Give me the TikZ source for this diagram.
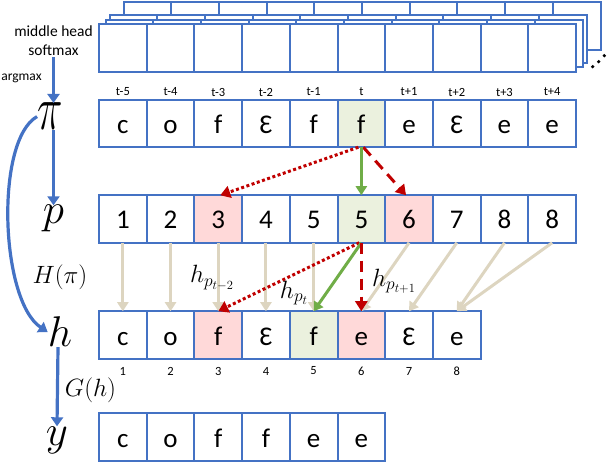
\RequirePackage{fix-cm}
\documentclass[tikz,border=0pt]{standalone}
\usepackage{fontspec}
\setmainfont{Carlito}
\usetikzlibrary{arrows.meta}

\tikzset{
  cell/.style={draw=cellblue, line width=2pt, fill=white, minimum width=47.7pt,
    minimum height=47.5pt, inner sep=0pt, outer sep=0pt,
    font=\fontsize{27}{27}\selectfont, text height=20pt, text depth=0pt},
  smalllab/.style={font=\fontsize{12.5}{12.5}\selectfont, inner sep=0pt},
  bigsym/.style={font=\fontsize{43}{43}\selectfont, inner sep=0pt, anchor=base},
  midsym/.style={font=\fontsize{25}{25}\selectfont, inner sep=0pt},
  bluearrow/.style={draw=cellblue, line width=3.2pt, -{Triangle[width=12pt,length=9pt]}},
  greenarrow/.style={draw=arrowgreen, line width=3pt, -{Triangle[width=11pt,length=9pt]}},
  reddot/.style={draw=arrowred, line width=3pt, dash pattern=on 3pt off 2.5pt,
    -{Triangle[width=12pt,length=10pt]}},
  reddash/.style={draw=arrowred, line width=3pt, dash pattern=on 11pt off 7pt,
    -{Triangle[width=12pt,length=10pt]}},
  beigearrow/.style={draw=linkbeige, line width=3pt, -{Triangle[width=11pt,length=9pt]}},
}

\begin{document}
\begin{tikzpicture}[x=1pt, y=-1pt]
  % Define colors
  \definecolor{cellblue}{RGB}{68,114,196}
  \definecolor{greenfill}{RGB}{235,241,222}
  \definecolor{pinkfill}{RGB}{255,217,217}
  \definecolor{arrowgreen}{RGB}{112,173,71}
  \definecolor{arrowred}{RGB}{192,0,0}
  \definecolor{linkbeige}{RGB}{221,213,192}

  \useasboundingbox (0,0) rectangle (608,462);

  % Stack of head outputs (back to front)
  \foreach \dx/\dy [count=\l] in {24.5/-22, 10.5/-9, 6.5/-4.5, 0/0}
    \foreach \i in {0,...,9}
      \node[cell] (mh\l-\i) at (122.85+47.7*\i+\dx, 48.25+\dy) {};
  \foreach \px/\py in {592.7/66.7, 598.7/61.7, 604.3/55.7}
    \fill (\px,\py) circle (1.8pt);

  \node[align=center, font=\fontsize{15.5}{19}\selectfont, inner sep=1pt] (mhlabel) at (53.5,41) {middle head\\softmax};
  \node[font=\fontsize{13.5}{13.5}\selectfont, inner sep=0pt] (argmax) at (21.5,78) {argmax};

  % Rows of cells
  \foreach \c/\f [count=\i from 0] in {c/white, o/white, f/white, Ɛ/white, f/white, f/greenfill, e/white, Ɛ/white, e/white, e/white}
    \node[cell, fill=\f] (pi\i) at (122.85+47.7*\i, 123.5) {\c};
  \foreach \t [count=\i from 0] in {t-5,t-4,t-3,t-2,t-1,t,t+1,t+2,t+3,t+4}
    \node[smalllab] (tl\i) at (122.85+47.7*\i, 92) {\t};

  \foreach \c/\f [count=\i from 0] in {1/white, 2/white, 3/pinkfill, 4/white, 5/white, 5/greenfill, 6/pinkfill, 7/white, 8/white, 8/white}
    \node[cell, fill=\f] (p\i) at (122.85+47.7*\i, 219) {\c};

  \foreach \c/\f [count=\i from 0] in {c/white, o/white, f/pinkfill, Ɛ/white, f/greenfill, e/pinkfill, Ɛ/white, e/white}
    \node[cell, fill=\f] (h\i) at (122.85+47.7*\i, 335) {\c};
  \foreach \i in {0,...,7}
    \pgfmathtruncatemacro\n{\i+1}
    \node[smalllab] (hl\i) at (122.85+47.7*\i, 371) {\n};

  \foreach \c [count=\i from 0] in {c,o,f,f,e,e}
    \node[cell] (y\i) at (122.85+47.7*\i, 437) {\c};

  % Symbols on the left
  \node[bigsym] (pisym) at (50,130) {\scalebox{1}[1.45]{$\pi$}};
  \node[bigsym] (psym) at (53.5,224) {$p$};
  \node[bigsym] (hsym) at (60,347) {$h$};
  \node[bigsym] (ysym) at (57,445) {$y$};
  \node[midsym] (hpi) at (60,277) {$H(\pi)$};
  \node[midsym] (gh) at (90.5,390) {$G(h)$};

  \draw[bluearrow] (mhlabel.south) -- (mhlabel.south |- pisym.north);
  \draw[bluearrow] (pisym.south -| psym) -- (psym.north);
  \draw[bluearrow] (pisym.west) .. controls (-5,140) and (0,300) .. (hsym.west);
  \draw[bluearrow] ([xshift=-2pt]hsym.south) -- (ysym.north);

  % Links from p to h
  \foreach \a/\b in {0/0, 1/1, 2/2, 3/3, 4/4, 6/5, 7/6, 8/7, 9/7}
    \draw[beigearrow] (p\a.south) -- (h\b.north);

  % Links from pi to p
  \draw[reddot] ([xshift=-3pt]pi5.south) -- ([xshift=2pt]p2.north);
  \draw[reddash] ([xshift=2pt]pi5.south) -- ([xshift=-3pt]p6.north);
  \draw[greenarrow] (pi5.south) -- (p5.north);

  % Selected links from p to h
  \draw[reddot] ([xshift=-2pt]p5.south) -- (h2.north);
  \draw[greenarrow] (p5.south) -- (h4.north);
  \draw[reddash] (p5.south) -- (h5.north);

  \node[midsym] (hm2) at (212,278) {$h_{p_{t-2}}$};
  \node[midsym] (hm0) at (294,293) {$h_{p_t}$};
  \node[midsym] (hp1) at (394,281) {$h_{p_{t+1}}$};
\end{tikzpicture}
\end{document}
